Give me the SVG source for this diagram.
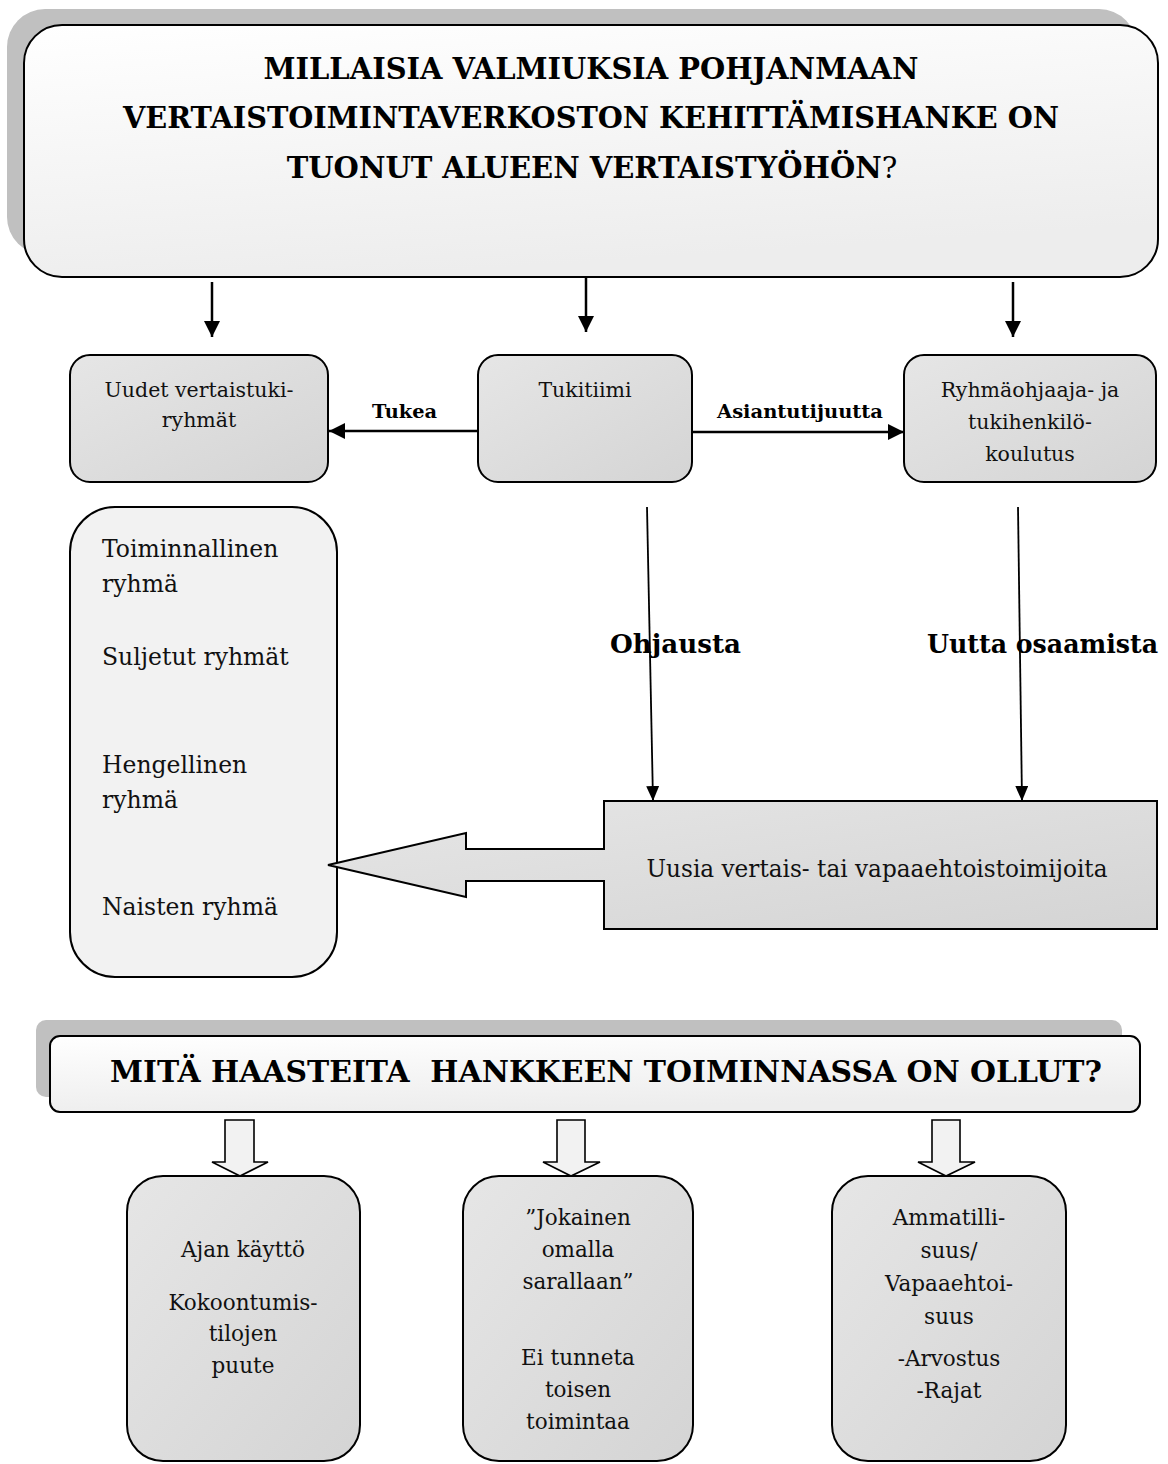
<svg xmlns="http://www.w3.org/2000/svg" width="1168" height="1464" viewBox="0 0 1168 1464">
  <defs>
    <linearGradient id="gLight" x1="0" y1="0" x2="0.3" y2="1">
      <stop offset="0" stop-color="#ffffff"/>
      <stop offset="1" stop-color="#ededed"/>
    </linearGradient>
    <linearGradient id="gMid" x1="0" y1="0" x2="1" y2="1">
      <stop offset="0" stop-color="#e6e6e6"/>
      <stop offset="1" stop-color="#d4d4d4"/>
    </linearGradient>
    <marker id="ah" markerUnits="userSpaceOnUse" markerWidth="16" markerHeight="16" viewBox="0 0 16 16" refX="16" refY="8" orient="auto">
      <path d="M0,0 L16,8 L0,16 z" fill="#000"/>
    </marker>
    <marker id="ahs" markerUnits="userSpaceOnUse" markerWidth="15" markerHeight="13" viewBox="0 0 15 13" refX="15" refY="6.5" orient="auto">
      <path d="M0,0 L15,6.5 L0,13 z" fill="#000"/>
    </marker>
    <style>
      .shadow { fill: #c0c0c0; stroke: none; }
      .box { stroke: #000; stroke-width: 2; }
      .light { fill: url(#gLight); }
      .mid { fill: url(#gMid); }
      .pale { fill: #f2f2f2; }
      .t { font-family: "DejaVu Serif", "Liberation Serif", serif; fill: #111; }
      .tb { font-family: "DejaVu Serif", "Liberation Serif", serif; font-weight: bold; fill: #000; }
      .c { text-anchor: middle; }
      .arr { stroke: #000; stroke-width: 2.5; fill: none; }
      .arrt { stroke: #000; stroke-width: 1.8; fill: none; }
      .blk { fill: #f2f2f2; stroke: #000; stroke-width: 1.6; stroke-linejoin: miter; }
    </style>
  </defs>

  <g id="title-box">
    <rect class="shadow" x="7" y="9" width="1130" height="246" rx="38"/>
    <rect class="box light" x="24" y="25" width="1134" height="252" rx="38"/>
    <text class="tb c" x="591" y="79" font-size="29.5" textLength="655" lengthAdjust="spacingAndGlyphs">MILLAISIA VALMIUKSIA POHJANMAAN</text>
    <text class="tb c" x="591" y="128" font-size="29.5" textLength="936" lengthAdjust="spacingAndGlyphs">VERTAISTOIMINTAVERKOSTON KEHITTÄMISHANKE ON</text>
    <text class="tb c" x="592" y="178" font-size="29">TUONUT ALUEEN VERTAISTYÖHÖN<tspan font-weight="normal">?</tspan></text>
  </g>

  <g id="uudet">
    <rect class="box mid" x="70" y="355" width="258" height="127" rx="20"/>
    <text class="t c" x="199" y="397" font-size="20.5">Uudet vertaistuki-</text>
    <text class="t c" x="199" y="427" font-size="20.5">ryhmät</text>
  </g>

  <g id="tukitiimi">
    <rect class="box mid" x="478" y="355" width="214" height="127" rx="20"/>
    <text class="t c" x="585" y="397" font-size="20.5">Tukitiimi</text>
  </g>

  <g id="koulutus">
    <rect class="box mid" x="904" y="355" width="252" height="127" rx="20"/>
    <text class="t c" x="1030" y="397" font-size="20.5">Ryhmäohjaaja- ja</text>
    <text class="t c" x="1030" y="429" font-size="20.5">tukihenkilö-</text>
    <text class="t c" x="1030" y="461" font-size="20.5">koulutus</text>
  </g>

  <g id="ryhmat">
    <rect class="box pale" x="70" y="507" width="267" height="470" rx="45"/>
    <text class="t" x="102" y="557" font-size="23.5">Toiminnallinen</text>
    <text class="t" x="102" y="592" font-size="23.5">ryhmä</text>
    <text class="t" x="102" y="665" font-size="23.5">Suljetut ryhmät</text>
    <text class="t" x="102" y="773" font-size="23.5">Hengellinen</text>
    <text class="t" x="102" y="808" font-size="23.5">ryhmä</text>
    <text class="t" x="102" y="915" font-size="23.5">Naisten ryhmä</text>
  </g>

  <g id="uusia">
    <path class="box mid" d="M604,801 L1157,801 L1157,929 L604,929 L604,881 L466,881 L466,897 L328,865 L466,833 L466,849 L604,849 Z"/>
    <text class="t c" x="877" y="877" font-size="23.3" textLength="461" lengthAdjust="spacingAndGlyphs">Uusia vertais- tai vapaaehtoistoimijoita</text>
  </g>

  <g id="haasteet-box">
    <rect class="shadow" x="36" y="1020" width="1086" height="77" rx="10"/>
    <rect class="box light" x="50" y="1036" width="1090" height="76" rx="10"/>
    <text class="tb c" x="606" y="1082" font-size="29" textLength="992" lengthAdjust="spacingAndGlyphs" xml:space="preserve">MITÄ HAASTEITA  HANKKEEN TOIMINNASSA ON OLLUT?</text>
  </g>

  <g id="aika">
    <rect class="box mid" x="127" y="1176" width="233" height="285" rx="36"/>
    <text class="t c" x="243" y="1257" font-size="21.5">Ajan käyttö</text>
    <text class="t c" x="243" y="1310" font-size="21.5">Kokoontumis-</text>
    <text class="t c" x="243" y="1341" font-size="21.5">tilojen</text>
    <text class="t c" x="243" y="1373" font-size="21.5">puute</text>
  </g>

  <g id="jokainen">
    <rect class="box mid" x="463" y="1176" width="230" height="285" rx="36"/>
    <text class="t c" x="578" y="1225" font-size="21.5">”Jokainen</text>
    <text class="t c" x="578" y="1257" font-size="21.5">omalla</text>
    <text class="t c" x="578" y="1289" font-size="21.5">sarallaan”</text>
    <text class="t c" x="578" y="1365" font-size="21.5">Ei tunneta</text>
    <text class="t c" x="578" y="1397" font-size="21.5">toisen</text>
    <text class="t c" x="578" y="1429" font-size="21.5">toimintaa</text>
  </g>

  <g id="ammatillisuus">
    <rect class="box mid" x="832" y="1176" width="234" height="285" rx="36"/>
    <text class="t c" x="949" y="1225" font-size="21.5">Ammatilli-</text>
    <text class="t c" x="949" y="1258" font-size="21.5">suus/</text>
    <text class="t c" x="949" y="1291" font-size="21.5">Vapaaehtoi-</text>
    <text class="t c" x="949" y="1324" font-size="21.5">suus</text>
    <text class="t c" x="949" y="1366" font-size="21.5">-Arvostus</text>
    <text class="t c" x="949" y="1398" font-size="21.5">-Rajat</text>
  </g>

  <g id="connectors">
    <line class="arr" x1="212" y1="282" x2="212" y2="337" marker-end="url(#ah)"/>
    <line class="arr" x1="586" y1="277" x2="586" y2="332" marker-end="url(#ah)"/>
    <line class="arr" x1="1013" y1="282" x2="1013" y2="337" marker-end="url(#ah)"/>

    <line class="arr" x1="478" y1="431" x2="329" y2="431" marker-end="url(#ah)"/>
    <text class="tb" x="372" y="418" font-size="19" textLength="65" lengthAdjust="spacingAndGlyphs">Tukea</text>
    <line class="arr" x1="692" y1="432" x2="904" y2="432" marker-end="url(#ah)"/>
    <text class="tb" x="717" y="418" font-size="18.5" textLength="166" lengthAdjust="spacingAndGlyphs">Asiantutijuutta</text>

    <line class="arrt" x1="647" y1="507" x2="653" y2="801" marker-end="url(#ahs)"/>
    <line class="arrt" x1="1018" y1="507" x2="1022" y2="801" marker-end="url(#ahs)"/>
    <text class="tb" x="610" y="653" font-size="26" textLength="131" lengthAdjust="spacingAndGlyphs">Ohjausta</text>
    <text class="tb" x="927" y="653" font-size="26" textLength="231" lengthAdjust="spacingAndGlyphs">Uutta osaamista</text>

    <path class="blk" d="M225,1120 L254,1120 L254,1162 L268,1162 L240,1176 L212,1162 L225,1162 Z"/>
    <path class="blk" d="M557,1120 L585,1120 L585,1162 L600,1162 L571,1176 L543,1162 L557,1162 Z"/>
    <path class="blk" d="M932,1120 L960,1120 L960,1162 L975,1162 L946,1176 L918,1162 L932,1162 Z"/>
  </g>
</svg>
